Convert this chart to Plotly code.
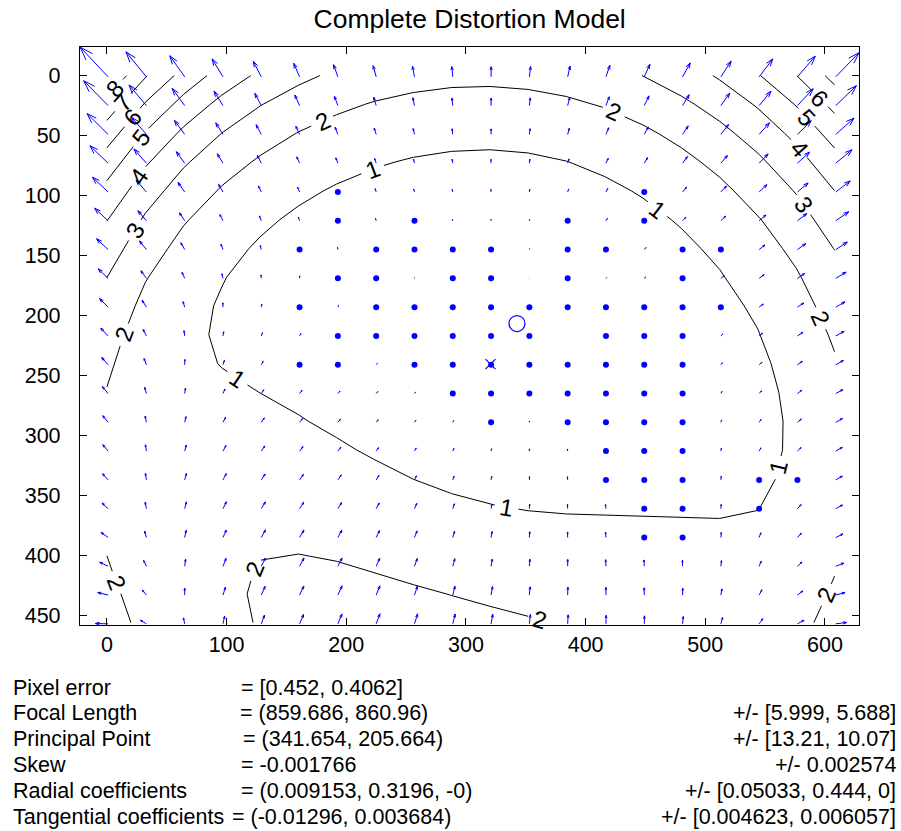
import math
from collections import defaultdict
import numpy as np
import plotly.graph_objects as go

# ---------------- data (camera model shown in the chart) ----------------
image_size = [640, 480]
focal_length = [859.686, 860.96]
principal_point = [341.654, 205.664]
skew = -0.001766
radial_coeffs = [0.009153, 0.3196, -0.0]
tangential_coeffs = [-0.01296, 0.003684]
pixel_error = [0.452, 0.4062]
focal_err = [5.999, 5.688]
pp_err = [13.21, 10.07]
skew_err = 0.002574
radial_err = [0.05033, 0.444, 0]
tangential_err = [0.004623, 0.006057]
grid_divisions = 20
contour_levels = [1, 2, 3, 4, 5, 6, 7, 8]
x_ticks = [0, 100, 200, 300, 400, 500, 600]
y_ticks = [0, 50, 100, 150, 200, 250, 300, 350, 400, 450]
# grid cells (row index: column indices) whose tiny arrows render as dots in the picture
dot_cells = {
    4: [6, 14],
    5: [6, 8, 12, 14],
    6: [5, 7, 8, 9, 10, 12, 13, 15, 16],
    7: [6, 7, 9, 10, 12, 15],
    8: [5, 7, 8, 9, 10, 11, 12, 13, 14, 15, 16],
    9: [6, 7, 8, 9, 10, 11, 13, 14, 15],
    10: [5, 6, 8, 9, 10, 11, 12, 13, 14, 15],
    11: [9, 10, 11, 12, 13, 14, 15],
    12: [10, 12, 13, 14, 15],
    13: [13, 14, 15],
    14: [13, 14, 15, 17, 18],
    15: [14, 15, 17],
    16: [14, 15],
}

# ---------------- distortion field ----------------
nx, ny = image_size
fc1, fc2 = focal_length
cc1, cc2 = principal_point
k1, k2, k3 = radial_coeffs
p1, p2 = tangential_coeffs

gx = np.arange(0, nx, nx / grid_divisions)
gy = np.arange(0, ny, ny / grid_divisions)
MX, MY = np.meshgrid(gx, gy)
px = MX.ravel()
py = MY.ravel()
x2 = (py - cc2) / fc2
x1 = (px - cc1 - skew * fc1 * x2) / fc1
r2 = x1 ** 2 + x2 ** 2
cdist = 1 + k1 * r2 + k2 * r2 ** 2 + k3 * r2 ** 3
a1 = 2 * x1 * x2
xd1 = x1 * cdist + p1 * a1 + p2 * (r2 + 2 * x1 ** 2)
xd2 = x2 * cdist + p1 * (r2 + 2 * x2 ** 2) + p2 * a1
px2 = fc1 * (xd1 + skew * xd2) + cc1
py2 = fc2 * xd2 + cc2
dx = px2 - px
dy = py2 - py
dr = np.sqrt(dx ** 2 + dy ** 2)
Z = dr.reshape(MX.shape)

# quiver autoscale (MATLAB rule)
n = np.sqrt(px.size)
delx = (px.max() - px.min()) / n
dely = (py.max() - py.min()) / n
dl = delx ** 2 + dely ** 2
scale = 0.9 / np.max(np.sqrt(dr ** 2 / dl))
u = dx * scale
v = dy * scale
bx = px + 1
by = py + 1
alpha, beta = 0.33, 0.33
eps = 1e-16

ncol = len(gx)
dots = np.zeros(px.size, dtype=bool)
for j, cols in dot_cells.items():
    for i in cols:
        dots[j * ncol + i] = True

lx, ly = [], []
for k in range(px.size):
    if dots[k]:
        continue
    x0, y0, uu, vv = bx[k], by[k], u[k], v[k]
    lx += [x0, x0 + uu, None,
           x0 + uu - alpha * (uu + beta * (vv + eps)), x0 + uu,
           x0 + uu - alpha * (uu - beta * (vv + eps)), None]
    ly += [y0, y0 + vv, None,
           y0 + vv - alpha * (vv - beta * (uu + eps)), y0 + vv,
           y0 + vv - alpha * (vv + beta * (uu + eps)), None]
allx = [a for a in lx if a is not None]
ally = [a for a in ly if a is not None]
xr = [min(allx), max(allx)]
yr = [min(ally), max(ally)]

# ---------------- layout geometry ----------------
L, R, T, B = 80, 41.7, 47.3, 206
W, H = 901, 831
pw = W - L - R
ph = H - T - B
kx = pw / (xr[1] - xr[0])
ky = ph / (yr[1] - yr[0])

def to_screen(x, y):
    return L + (x - xr[0]) * kx, T + (y - yr[0]) * ky

# ---------------- contour lines (marching squares) ----------------
def edge_point(e, lev):
    kind, i, j = e
    if kind == "h":
        z0, z1 = Z[j, i], Z[j, i + 1]
        t = (lev - z0) / (z1 - z0)
        return gx[i] + t * (gx[i + 1] - gx[i]), gy[j]
    z0, z1 = Z[j, i], Z[j + 1, i]
    t = (lev - z0) / (z1 - z0)
    return gx[i], gy[j] + t * (gy[j + 1] - gy[j])

def contour_paths(lev):
    segs = []
    nyp, nxp = Z.shape
    for j in range(nyp - 1):
        for i in range(nxp - 1):
            c = [Z[j, i] > lev, Z[j, i + 1] > lev, Z[j + 1, i + 1] > lev, Z[j + 1, i] > lev]
            e = [("h", i, j), ("v", i + 1, j), ("h", i, j + 1), ("v", i, j)]
            cr = [c[0] != c[1], c[1] != c[2], c[2] != c[3], c[3] != c[0]]
            idx = [q for q in range(4) if cr[q]]
            if len(idx) == 2:
                segs.append((e[idx[0]], e[idx[1]]))
            elif len(idx) == 4:
                centre = (Z[j, i] + Z[j, i + 1] + Z[j + 1, i + 1] + Z[j + 1, i]) / 4 > lev
                if centre == c[0]:
                    segs += [(e[0], e[1]), (e[2], e[3])]
                else:
                    segs += [(e[0], e[3]), (e[1], e[2])]
    adj = defaultdict(list)
    for a, b in segs:
        adj[a].append(b)
        adj[b].append(a)
    used = set()
    paths = []

    def walk(start):
        path = [start]
        cur = start
        while True:
            nb = [q for q in adj[cur] if frozenset((cur, q)) not in used]
            if not nb:
                break
            used.add(frozenset((cur, nb[0])))
            cur = nb[0]
            path.append(cur)
        return path

    for node in list(adj):
        if len(adj[node]) == 1 and any(frozenset((node, q)) not in used for q in adj[node]):
            paths.append(walk(node))
    for node in list(adj):
        if any(frozenset((node, q)) not in used for q in adj[node]):
            paths.append(walk(node))
    return [[edge_point(e, lev) for e in p] for p in paths]

def orient(pts):
    """Start open lines at the end lying on a side edge; start loops at their leftmost point going down."""
    closed = np.allclose(pts[0], pts[-1])
    if closed:
        body = pts[:-1]
        i0 = int(np.argmin(body[:, 0]))
        body = np.roll(body, -i0, axis=0)
        if body[1, 1] < body[0, 1]:
            body = np.concatenate([body[:1], body[1:][::-1]])
        return np.vstack([body, body[:1]]), True
    def on_side(p):
        return abs(p[0] - gx[0]) < 1e-6 or abs(p[0] - gx[-1]) < 1e-6
    s0, s1 = on_side(pts[0]), on_side(pts[-1])
    if s1 and not s0:
        pts = pts[::-1]
    elif s0 == s1 and pts[-1][0] < pts[0][0]:
        pts = pts[::-1]
    return pts, False

font = "Liberation Sans, Arial, sans-serif"
label_interval = 300.0   # screen pixels between labels along a line
label_first = 55.0       # distance of first label from the line start
label_gap = 12.0         # half gap around a label
label_size = 24
cx, cy = [], []
label_ann = []
for lev in contour_levels:
    for path in contour_paths(lev):
        pts, closed = orient(np.array(path))
        sx, sy = to_screen(pts[:, 0], pts[:, 1])
        seg = np.hypot(np.diff(sx), np.diff(sy))
        cum = np.concatenate([[0], np.cumsum(seg)])
        total = cum[-1]
        labs = []
        if total > 2 * label_gap:
            if closed:
                nl = max(1, int(round(total / label_interval)))
                step = total / nl
                labs = [label_first + q * step for q in range(nl)]
            else:
                s = min(label_first, 0.4 * total)
                while s <= total - 10:
                    labs.append(s)
                    s += label_interval

        def at(s):
            s = min(max(s, 0), total)
            kk = min(np.searchsorted(cum, s, side="right") - 1, len(cum) - 2)
            t = (s - cum[kk]) / max(cum[kk + 1] - cum[kk], 1e-9)
            return (pts[kk, 0] + t * (pts[kk + 1, 0] - pts[kk, 0]),
                    pts[kk, 1] + t * (pts[kk + 1, 1] - pts[kk, 1]))

        gaps = [(s - label_gap, s + label_gap) for s in labs]
        svals = sorted(set(list(cum) + [g for gp in gaps for g in gp if 0 < g < total]))
        prev_in = None
        for a, b in zip(svals[:-1], svals[1:]):
            mid = (a + b) / 2
            inside = any(g0 < mid < g1 for g0, g1 in gaps)
            if inside:
                if prev_in is False:
                    cx.append(None)
                    cy.append(None)
                prev_in = True
                continue
            if prev_in is not False:
                pa = at(a)
                cx.append(pa[0])
                cy.append(pa[1])
            pb = at(b)
            cx.append(pb[0])
            cy.append(pb[1])
            prev_in = False
        cx.append(None)
        cy.append(None)
        for s in labs:
            xa, ya = at(s)
            q0 = to_screen(*at(s - 8))
            q1 = to_screen(*at(s + 8))
            ang = math.degrees(math.atan2(q1[1] - q0[1], q1[0] - q0[0]))
            if ang > 90:
                ang -= 180
            if ang < -90:
                ang += 180
            label_ann.append(dict(x=xa, y=ya, xref="x", yref="y", text=str(lev), showarrow=False,
                                  textangle=ang, xanchor="center", yanchor="middle",
                                  font=dict(family=font, size=label_size, color="black")))

blue = "#0000FF"

fig = go.Figure()
fig.add_trace(go.Scatter(x=cx, y=cy, mode="lines", line=dict(color="black", width=1),
                         hoverinfo="skip", showlegend=False))
fig.add_trace(go.Scatter(x=lx, y=ly, mode="lines", line=dict(color=blue, width=1),
                         hoverinfo="skip", showlegend=False))
fig.add_trace(go.Scatter(x=bx[dots], y=by[dots], mode="markers",
                         marker=dict(color=blue, size=6), showlegend=False))
fig.add_trace(go.Scatter(x=[cc1 + 1], y=[cc2 + 1], mode="markers",
                         marker=dict(symbol="circle-open", size=16, color=blue, line=dict(width=1.2)),
                         showlegend=False))
fig.add_trace(go.Scatter(x=[(nx - 1) / 2 + 1], y=[(ny - 1) / 2 + 1], mode="markers",
                         marker=dict(symbol="x-thin-open", size=10, color=blue, line=dict(width=1.2)),
                         showlegend=False))

axis_common = dict(showgrid=False, zeroline=False, ticks="inside", ticklen=7, tickwidth=1,
                   tickcolor="black", mirror="ticks", showline=True, linecolor="black",
                   linewidth=1.3, tickfont=dict(family=font, size=21.5, color="black"))
fig.update_xaxes(range=xr, tickvals=x_ticks, **axis_common)
fig.update_yaxes(range=[yr[1], yr[0]], tickvals=y_ticks, ticklabelstandoff=14, **axis_common)

labels = ["Pixel error", "Focal Length", "Principal Point", "Skew",
          "Radial coefficients", "Tangential coefficients"]
values = [
    "= [%g, %g]" % tuple(pixel_error),
    "= (%g, %g)" % tuple(focal_length),
    "= (%g, %g)" % tuple(principal_point),
    "= %g" % skew,
    "= (%g, %g, -0)" % (radial_coeffs[0], radial_coeffs[1]),
    "= (%g, %g)" % tuple(tangential_coeffs),
]
errors = [
    "",
    "+/- [%g, %g]" % tuple(focal_err),
    "+/- [%g, %g]" % tuple(pp_err),
    "+/- %g" % skew_err,
    "+/- [%g, %g, %g]" % tuple(radial_err),
    "+/- [%g, %g]" % tuple(tangential_err),
]
value_x = [240.7, 239.3, 242.7, 240.7, 240.7, 231.5]
line_y = [687.7, 713.3, 739.3, 765.0, 790.7, 816.5]
tfont = dict(family=font, size=21.5, color="black")

def to_paper(xp, yp):
    return (xp - L) / pw, (H - B - yp) / ph

ann = list(label_ann)
for lab, val, err, vx, yy in zip(labels, values, errors, value_x, line_y):
    x0, y0 = to_paper(10.5, yy)
    ann.append(dict(x=x0, y=y0, xref="paper", yref="paper", text=lab, showarrow=False,
                    xanchor="left", yanchor="middle", font=tfont))
    x0, _ = to_paper(vx - 1.5, yy)
    ann.append(dict(x=x0, y=y0, xref="paper", yref="paper", text=val, showarrow=False,
                    xanchor="left", yanchor="middle", font=tfont))
    if err:
        x0, _ = to_paper(898.2, yy)
        ann.append(dict(x=x0, y=y0, xref="paper", yref="paper", text=err, showarrow=False,
                        xanchor="right", yanchor="middle", font=tfont))

fig.update_layout(
    width=W, height=H, margin=dict(l=L, r=R, t=T, b=B, pad=0),
    paper_bgcolor="white", plot_bgcolor="white", showlegend=False,
    title=dict(text="Complete Distortion Model", x=(L + pw / 2) / W, xanchor="center",
               y=1 - 19 / H, yanchor="middle", yref="container",
               font=dict(family=font, size=26.5, color="black")),
    annotations=ann,
)
fig.write_html("out.html", config={"displayModeBar": False},
               post_script="document.body.style.margin='0px';")
